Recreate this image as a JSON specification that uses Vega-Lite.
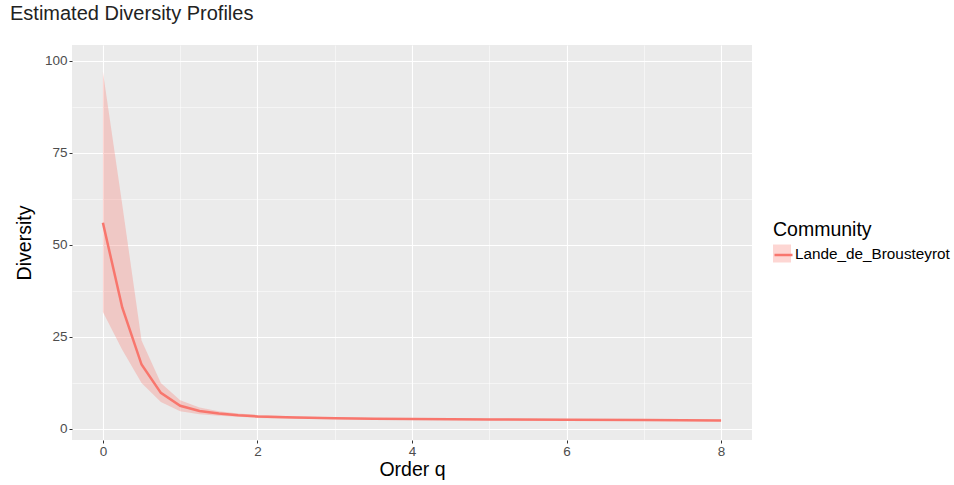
{
  "$schema": "https://vega.github.io/schema/vega-lite/v6.json",
  "width": 680,
  "height": 395,
  "autosize": {"type": "none"},
  "padding": {"left": 72, "top": 45, "right": 202, "bottom": 45},
  "background": "white",
  "config": {
    "font": "Liberation Sans",
    "view": {"fill": "#EBEBEB", "stroke": null}
  },
  "title": {
    "text": "Estimated Diversity Profiles",
    "anchor": "start",
    "frame": "group",
    "dx": -62,
    "dy": 16,
    "offset": 21,
    "baseline": "alphabetic",
    "fontSize": 20,
    "fontWeight": "normal",
    "color": "#222222"
  },
  "data": {
    "values": [
      {"q": 0, "D": 56, "lo": 31.8, "hi": 97, "Community": "Lande_de_Brousteyrot", "Site": "Lande_de_Brousteyrot"},
      {"q": 0.25, "D": 33, "lo": 21.5, "hi": 61, "Community": "Lande_de_Brousteyrot", "Site": "Lande_de_Brousteyrot"},
      {"q": 0.5, "D": 17.5, "lo": 12.5, "hi": 24, "Community": "Lande_de_Brousteyrot", "Site": "Lande_de_Brousteyrot"},
      {"q": 0.75, "D": 9.8, "lo": 7.3, "hi": 12.5, "Community": "Lande_de_Brousteyrot", "Site": "Lande_de_Brousteyrot"},
      {"q": 1, "D": 6.3, "lo": 4.8, "hi": 7.8, "Community": "Lande_de_Brousteyrot", "Site": "Lande_de_Brousteyrot"},
      {"q": 1.25, "D": 4.9, "lo": 4.0, "hi": 5.8, "Community": "Lande_de_Brousteyrot", "Site": "Lande_de_Brousteyrot"},
      {"q": 1.5, "D": 4.2, "lo": 3.6, "hi": 4.8, "Community": "Lande_de_Brousteyrot", "Site": "Lande_de_Brousteyrot"},
      {"q": 1.75, "D": 3.7, "lo": 3.3, "hi": 4.2, "Community": "Lande_de_Brousteyrot", "Site": "Lande_de_Brousteyrot"},
      {"q": 2, "D": 3.4, "lo": 3.0, "hi": 3.8, "Community": "Lande_de_Brousteyrot", "Site": "Lande_de_Brousteyrot"},
      {"q": 2.5, "D": 3.1, "lo": 2.8, "hi": 3.4, "Community": "Lande_de_Brousteyrot", "Site": "Lande_de_Brousteyrot"},
      {"q": 3, "D": 2.9, "lo": 2.7, "hi": 3.2, "Community": "Lande_de_Brousteyrot", "Site": "Lande_de_Brousteyrot"},
      {"q": 3.5, "D": 2.8, "lo": 2.6, "hi": 3.0, "Community": "Lande_de_Brousteyrot", "Site": "Lande_de_Brousteyrot"},
      {"q": 4, "D": 2.7, "lo": 2.5, "hi": 2.9, "Community": "Lande_de_Brousteyrot", "Site": "Lande_de_Brousteyrot"},
      {"q": 5, "D": 2.6, "lo": 2.4, "hi": 2.8, "Community": "Lande_de_Brousteyrot", "Site": "Lande_de_Brousteyrot"},
      {"q": 6, "D": 2.5, "lo": 2.3, "hi": 2.7, "Community": "Lande_de_Brousteyrot", "Site": "Lande_de_Brousteyrot"},
      {"q": 7, "D": 2.4, "lo": 2.2, "hi": 2.6, "Community": "Lande_de_Brousteyrot", "Site": "Lande_de_Brousteyrot"},
      {"q": 8, "D": 2.3, "lo": 2.1, "hi": 2.5, "Community": "Lande_de_Brousteyrot", "Site": "Lande_de_Brousteyrot"}
    ]
  },
  "layer": [
    {
      "mark": {"type": "area", "fillOpacity": 0.3, "clip": true},
      "encoding": {
        "x": {
          "field": "q", "type": "quantitative",
          "scale": {"domain": [-0.4, 8.4], "nice": false, "zero": false},
          "axis": {
            "title": "Order q",
            "values": [0, 1, 2, 3, 4, 5, 6, 7, 8],
            "format": "d",
            "labelExpr": "datum.value % 2 === 0 ? datum.label : ''",
            "tickOpacity": {"condition": {"test": "datum.value % 2 === 0", "value": 1}, "value": 0},
            "gridWidth": {"condition": {"test": "datum.value % 2 === 0", "value": 1.1}, "value": 0.5},
            "gridColor": "white",
            "domain": false,
            "tickColor": "#333333",
            "tickSize": 3,
            "labelColor": "#4D4D4D",
            "labelFontSize": 13.5,
            "labelPadding": 1,
            "titleFontSize": 19.5,
            "titleFontWeight": "normal",
            "titleColor": "#000000",
            "titlePadding": 3
          }
        },
        "y": {
          "field": "lo", "type": "quantitative",
          "scale": {"domain": [-3, 104.3], "nice": false, "zero": false},
          "axis": {
            "title": "Diversity",
            "values": [0, 12.5, 25, 37.5, 50, 62.5, 75, 87.5, 100],
            "labelExpr": "datum.value % 25 === 0 ? datum.label : ''",
            "tickOpacity": {"condition": {"test": "datum.value % 25 === 0", "value": 1}, "value": 0},
            "gridWidth": {"condition": {"test": "datum.value % 25 === 0", "value": 1.1}, "value": 0.5},
            "gridColor": "white",
            "domain": false,
            "tickColor": "#333333",
            "tickSize": 3,
            "labelColor": "#4D4D4D",
            "labelFontSize": 13.5,
            "labelPadding": 2,
            "titleFontSize": 19.5,
            "titleFontWeight": "normal",
            "titleColor": "#000000",
            "titlePadding": 10
          }
        },
        "y2": {"field": "hi"},
        "fill": {
          "field": "Community", "type": "nominal",
          "scale": {"range": ["#F8766D"]},
          "legend": {
            "orient": "none",
            "legendX": 701,
            "legendY": 176,
            "title": "Community",
            "titleFontSize": 19.5,
            "titleFontWeight": "normal",
            "titleColor": "#000000",
            "titlePadding": 4,
            "labelFontSize": 15.3,
            "labelColor": "#000000",
            "symbolType": "square",
            "symbolSize": 324,
            "symbolOpacity": 0.3,
            "symbolStrokeWidth": 0,
            "labelOffset": 4,
            "zindex": 1
          }
        }
      }
    },
    {
      "mark": {"type": "line", "strokeWidth": 2.5, "clip": true},
      "encoding": {
        "x": {"field": "q", "type": "quantitative"},
        "y": {"field": "D", "type": "quantitative"},
        "stroke": {
          "field": "Site", "type": "nominal",
          "scale": {"range": ["#F8766D"]},
          "legend": {
            "orient": "none",
            "legendX": 701,
            "legendY": 176,
            "title": "Community",
            "titleFontSize": 19.5,
            "titleFontWeight": "normal",
            "titleOpacity": 0,
            "titlePadding": 4,
            "labelFontSize": 15.3,
            "labelOpacity": 0,
            "labelExpr": "''",
            "symbolType": "stroke",
            "symbolStrokeWidth": 2.5,
            "symbolSize": 324,
            "labelOffset": 4,
            "zindex": 2
          }
        }
      }
    }
  ]
}
